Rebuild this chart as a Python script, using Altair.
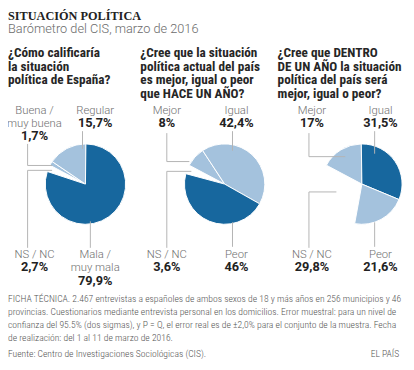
import math
import altair as alt
import pandas as pd

# ---------------- data ----------------
titulo = "SITUACIÓN POLÍTICA"
subtitulo = "Barómetro del CIS, marzo de 2016"

preguntas = [
    ["¿Cómo calificaría", "la situación", "política de España?"],
    ["¿Cree que la situación", "política actual del país", "es mejor, igual o peor", "que HACE UN AÑO?"],
    ["¿Cree que DENTRO", "DE UN AÑO la situación", "política del país será", "mejor, igual o peor?"],
]

categorias_1 = [["Buena /", "muy buena"], ["Regular"], ["Mala /", "muy mala"], ["NS / NC"]]
valores_1 = [1.7, 15.7, 79.9, 2.7]

categorias_2 = [["Mejor"], ["Igual"], ["Peor"], ["NS / NC"]]
valores_2 = [8, 42.4, 46, 3.6]

categorias_3 = [["Mejor"], ["Igual"], ["Peor"], ["NS / NC"]]
valores_3 = [17, 31.5, 21.6, 29.8]

ficha = [
    "FICHA TÉCNICA. 2.467 entrevistas a españoles de ambos sexos de 18 y más años en 256 municipios y 46",
    "provincias. Cuestionarios mediante entrevista personal en los domicilios. Error muestral: para un nivel de",
    "confianza del 95.5% (dos sigmas), y P = Q, el error real es de ±2,0% para el conjunto de la muestra. Fecha",
    "de realización: del 1 al 11 de marzo de 2016.",
]
fuente = "Fuente: Centro de Investigaciones Sociológicas (CIS)."
firma = "EL PAÍS"

# ---------------- layout (page pixels, canvas = page - 8) ----------------
OFF = 8
DARK = "#17679e"
LIGHT = "#a4c2dd"
GRAY_LINE = "#b3b3b3"
SANS_C = "Roboto Condensed"
SANS = "Roboto"

pie_cx = [87, 229, 369]
pie_cy = 184
R = 41
start = math.radians(298)

col_x = [8, 143, 283]
q_base, q_lh = 54.5, 13.8

lab_left = [35, 170, 318]
lab_right = [97, 241, 388]
top_base, bot_base, lab_lh = 112, 259.5, 13.5
# slot of each category index: 0 upper-left, 1 upper-right, 2 lower-right, 3 lower-left
slots = ["UL", "UR", "LR", "LL"]

leaders = [
    [[(28, 143), (28, 165), (53, 165)], [(84, 130), (84, 148)], [(92, 222), (92, 249)], [(28, 249), (28, 170), (53, 170)]],
    [[(170, 132), (170, 161), (193, 161)], [(237, 130), (237, 150)], [(237, 223), (237, 248)], [(170, 249), (170, 171), (195, 171)]],
    [[(315, 132), (315, 156), (352, 156)], [(382, 130), (382, 153)], [(382, 223), (382, 248)], [(315, 249), (315, 192), (343, 192)]],
]


def fmt(v):
    s = f"{v:g}".replace(".", ",")
    return s + "%"


series = [(categorias_1, valores_1), (categorias_2, valores_2), (categorias_3, valores_3)]

arc_rows, name_rows, val_rows, seg_rows = [], [], [], []
for p, (cats, vals) in enumerate(series):
    filled = vals[:3]
    big = filled.index(max(filled))
    acc = 0.0
    for i, (c, v) in enumerate(zip(cats, vals)):
        tono = "vacio" if i == 3 else ("oscuro" if i == big else "claro")
        arc_rows.append(dict(p=p, cat=" ".join(c), t0=acc, t1=acc + v, tono=tono,
                             cx=pie_cx[p] - OFF, cy=pie_cy - OFF))
        acc += v
        slot = slots[i]
        lx = lab_left[p] if slot in ("UL", "LL") else lab_right[p]
        b = top_base if slot in ("UL", "UR") else bot_base
        for k, line in enumerate(c):
            name_rows.append(dict(x=lx - OFF, y=b + k * lab_lh - OFF, t=line))
        val_rows.append(dict(x=lx - OFF, y=b + len(c) * lab_lh - OFF, t=fmt(v)))
        pts = leaders[p][i]
        for (x1, y1), (x2, y2) in zip(pts[:-1], pts[1:]):
            seg_rows.append(dict(x=x1 - OFF, y=y1 - OFF, x2=x2 - OFF, y2=y2 - OFF))

arcs = pd.DataFrame(arc_rows)
arcs = arcs[arcs.tono != "vacio"]

noscale = dict(scale=None, axis=None)

arc_layer = alt.Chart(arcs).mark_arc(radius=R, stroke="white", strokeWidth=1).encode(
    x=alt.X("cx:Q", **noscale),
    y=alt.Y("cy:Q", **noscale),
    theta=alt.Theta("t0:Q", stack=None,
                    scale=alt.Scale(domain=[0, 100], range=[start, start + 2 * math.pi])),
    theta2="t1:Q",
    color=alt.Color("tono:N", scale=alt.Scale(domain=["oscuro", "claro"], range=[DARK, LIGHT]), legend=None),
)

seg_layer = alt.Chart(pd.DataFrame(seg_rows)).mark_rule(color=GRAY_LINE, strokeWidth=1).encode(
    x=alt.X("x:Q", **noscale), y=alt.Y("y:Q", **noscale),
    x2="x2:Q", y2="y2:Q",
)

name_layer = alt.Chart(pd.DataFrame(name_rows)).mark_text(
    font=SANS, fontSize=11.5, fontWeight=300, color="#707070", align="center", baseline="alphabetic"
).encode(x=alt.X("x:Q", **noscale), y=alt.Y("y:Q", **noscale), text="t:N")

val_layer = alt.Chart(pd.DataFrame(val_rows)).mark_text(
    font=SANS, fontSize=13, fontWeight="bold", color="#222222", align="center", baseline="alphabetic"
).encode(x=alt.X("x:Q", **noscale), y=alt.Y("y:Q", **noscale), text="t:N")

q_rows = []
for p, lines in enumerate(preguntas):
    for k, line in enumerate(lines):
        q_rows.append(dict(x=col_x[p] - OFF, y=q_base + k * q_lh - OFF, t=line))
q_layer = alt.Chart(pd.DataFrame(q_rows)).mark_text(
    font=SANS_C, fontSize=13.5, fontWeight="bold", color="#262626", align="left", baseline="alphabetic"
).encode(x=alt.X("x:Q", **noscale), y=alt.Y("y:Q", **noscale), text="t:N")

title_layer = alt.Chart(pd.DataFrame([dict(x=0, y=17 - OFF, t=titulo)])).mark_text(
    font="Liberation Serif", fontSize=12.5, fontWeight="bold", color="#222222", align="left", baseline="alphabetic"
).encode(x=alt.X("x:Q", **noscale), y=alt.Y("y:Q", **noscale), text="t:N")

sub_layer = alt.Chart(pd.DataFrame([dict(x=0, y=30 - OFF, t=subtitulo)])).mark_text(
    font=SANS, fontSize=13, fontWeight=300, color="#6b6b6b", align="left", baseline="alphabetic"
).encode(x=alt.X("x:Q", **noscale), y=alt.Y("y:Q", **noscale), text="t:N")

f_rows = [dict(x=0, y=304 + k * 13.4 - OFF, t=line) for k, line in enumerate(ficha)]
f_rows.append(dict(x=0, y=360.5 - OFF, t=fuente))
foot_layer = alt.Chart(pd.DataFrame(f_rows)).mark_text(
    font=SANS_C, fontSize=9.8, fontWeight=300, color="#555555", align="left", baseline="alphabetic"
).encode(x=alt.X("x:Q", **noscale), y=alt.Y("y:Q", **noscale), text="t:N")

firma_layer = alt.Chart(pd.DataFrame([dict(x=407 - OFF, y=360.5 - OFF, t=firma)])).mark_text(
    font=SANS_C, fontSize=9.8, fontWeight=300, color="#555555", align="right", baseline="alphabetic"
).encode(x=alt.X("x:Q", **noscale), y=alt.Y("y:Q", **noscale), text="t:N")

chart = alt.layer(
    arc_layer, seg_layer, name_layer, val_layer, q_layer, title_layer, sub_layer, foot_layer, firma_layer
).properties(width=406, height=362, padding=0, autosize="none").configure_view(stroke=None)

chart.save("out.html", embed_options={"renderer": "svg", "actions": False})
